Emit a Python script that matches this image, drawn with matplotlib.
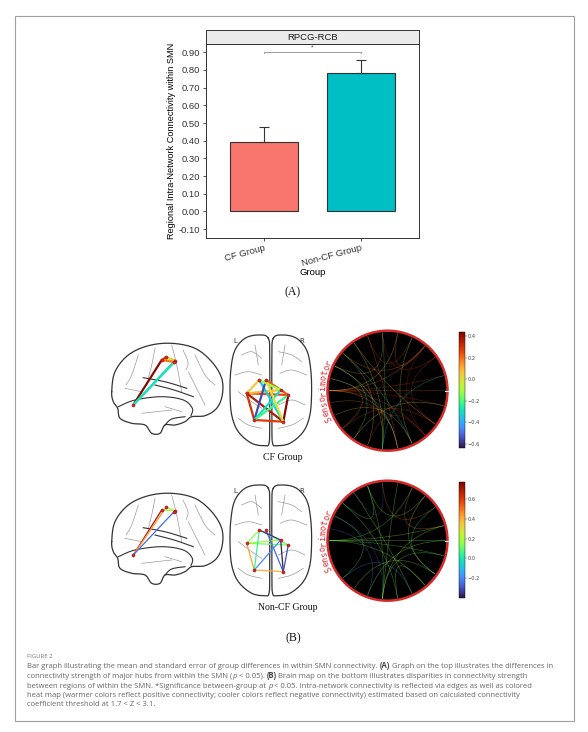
import numpy as np
import matplotlib
matplotlib.use("Agg")
import matplotlib.pyplot as plt
from matplotlib.patches import Rectangle, Circle, PathPatch
from matplotlib.path import Path
from matplotlib.colors import Normalize
from matplotlib.cm import ScalarMappable

# ---------------- panel A data ----------------
groups = ["CF Group", "Non-CF Group"]
means = [0.395, 0.782]
sems = [0.080, 0.073]
bar_colors = ["#F8766D", "#00BFC4"]
y_ticks = [-0.1, 0.0, 0.1, 0.2, 0.3, 0.4, 0.5, 0.6, 0.7, 0.8, 0.9]
hub = "RPCG-RCB"
sig_height = 0.90

# ---------------- panel B data ----------------
row_names = ["CF Group", "Non-CF Group"]
# glass brain node positions (local pixel units of each view)
sag_x = [25.3, 53.7, 58.0, 67.0, 66.3]
sag_y = [65.0, 20.0, 17.3, 20.7, 22.0]
axl_x = [34.3, 41.0, 21.7, 55.7, 63.3, 29.3, 58.3]
axl_y = [54.0, 54.0, 67.3, 64.0, 69.0, 94.0, 95.7]

sag_edges_cf = [(0, 1, 0.42), (0, 3, -0.35), (0, 4, -0.28), (1, 2, 0.30), (1, 3, 0.05),
                (2, 3, 0.12), (2, 4, -0.05), (1, 4, 0.18)]
sag_edges_ncf = [(0, 1, 0.70), (0, 2, 0.45), (0, 3, -0.25), (1, 3, 0.15), (2, 3, 0.22),
                 (3, 4, 0.05)]
axl_edges_cf = [(2, 5, 0.30), (5, 6, 0.28), (2, 4, 0.25), (2, 6, 0.36), (4, 6, 0.42),
                (1, 4, 0.22), (0, 2, 0.05), (2, 3, 0.08), (0, 6, -0.35), (1, 5, -0.55),
                (3, 5, -0.30), (0, 3, -0.12), (4, 5, -0.22), (1, 6, 0.0)]
axl_edges_ncf = [(2, 5, 0.42), (5, 6, 0.40), (0, 2, 0.15), (2, 4, 0.12), (2, 3, 0.18),
                 (0, 4, 0.10), (1, 6, -0.25), (0, 3, -0.35), (3, 6, -0.38), (4, 6, -0.30),
                 (5, 3, -0.20), (0, 5, 0.05)]

# circular connectogram: node angles (deg) and edges
circ_angles = [180, 168, 155, 140, 125, 110, 95, 80, 65, 50, 35, 15,
               0, -15, -35, -50, -65, -80, -95, -110, -125, -140, -155, -168]
circ_edges_cf = [(0, 11, 0.28), (0, 12, 0.22), (0, 13, 0.30), (0, 9, 0.18), (0, 15, 0.25),
                 (0, 17, 0.12), (0, 7, 0.05), (1, 17, -0.28), (2, 18, 0.02), (3, 16, -0.30),
                 (3, 19, 0.08), (4, 18, 0.0), (5, 17, 0.20), (4, 14, 0.10), (5, 8, 0.25),
                 (6, 10, 0.30), (7, 9, 0.22), (9, 15, 0.32), (10, 14, 0.28), (8, 16, -0.05),
                 (2, 20, -0.20), (1, 21, 0.15), (22, 16, 0.10), (21, 14, 0.26), (20, 13, 0.05),
                 (19, 15, 0.30), (18, 11, -0.32), (23, 17, 0.18), (6, 18, -0.25), (3, 9, 0.20),
                 (2, 6, 0.12)]
circ_edges_ncf = [(0, 12, 0.15), (0, 13, 0.10), (0, 15, 0.18), (0, 11, 0.20), (0, 8, 0.12),
                  (3, 17, 0.15), (2, 18, -0.25), (1, 19, -0.20), (4, 16, 0.18), (5, 18, 0.12),
                  (4, 6, -0.28), (3, 5, 0.10), (8, 11, 0.45), (6, 10, 0.50), (9, 14, 0.30),
                  (10, 14, 0.05), (19, 12, 0.15), (18, 11, 0.18), (18, 13, 0.12), (20, 14, 0.16),
                  (21, 16, -0.15), (17, 15, 0.20), (2, 21, 0.08), (5, 9, 0.14), (7, 18, 0.16)]
network_name = "Sensorimotor"

cb_limits = [(-0.637, 0.437), (-0.40, 0.77)]
cb_ticks = [[-0.6, -0.4, -0.2, 0.0, 0.2, 0.4], [-0.2, 0.0, 0.2, 0.4, 0.6]]

caption_title = "FIGURE 2"
caption_lines = [
    [("Bar graph illustrating the mean and standard error of group differences in within SMN connectivity. ", "n"),
     ("(A)", "b"), (" Graph on the top illustrates the differences in", "n")],
    [("connectivity strength of major hubs from within the SMN (", "n"), ("p", "i"), (" < 0.05). ", "n"),
     ("(B)", "b"), (" Brain map on the bottom illustrates disparities in connectivity strength", "n")],
    [("between regions of within the SMN. *Significance between-group at ", "n"), ("p", "i"),
     (" < 0.05. Intra-network connectivity is reflected via edges as well as colored", "n")],
    [("heat map (warmer colors reflect positive connectivity; cooler colors reflect negative connectivity) estimated based on calculated connectivity", "n")],
    [("coefficient threshold at 1.7 < Z < 3.1.", "n")],
]

# ---------------- outline shapes (decoration) ----------------
sag_outline = [(3.7, 51.7), (7, 31.7), (20.3, 15), (40.3, 5.7), (63.7, 3.3), (87, 8.3),
               (103.7, 21.7), (113.7, 38.3), (114.3, 55), (108.7, 68.3), (97, 75.7),
               (83.7, 76.7), (77, 81.7), (67, 85), (57, 85), (52, 93.3), (43.7, 93.3),
               (37, 85), (23.7, 83.3), (12, 78.3), (9.7, 68.3), (5.3, 61.7)]
sag_dark = [[(35.3, 37.7), (58, 42), (78.7, 48.3)],
            [(47, 45), (66, 50), (85.3, 56.7)],
            [(10.3, 66.7), (27, 60), (53.7, 56.7), (75.3, 60), (84.3, 68.3), (83, 75.7)],
            [(57, 85), (63.7, 79), (77, 76.7)]]
sag_sulci = [[(63.7, 5), (68.7, 25), (73.7, 51.7)],
             [(47, 8.3), (43.7, 25), (40.3, 38.3)],
             [(30.3, 15), (23.7, 35), (18, 45)],
             [(87, 15), (97, 35), (107, 45)],
             [(17, 48.3), (33.7, 51.7)],
             [(80.3, 31.7), (90.3, 51.7), (97, 65)],
             [(33.7, 73.3), (63.7, 70)],
             [(57, 66.7), (73.7, 71.7)],
             [(75, 10), (80, 22), (78, 30)]]
hemi_left = [(43.3, 12.3), (33.3, 9), (20, 12.3), (10, 24), (6, 42.3), (5, 65.7), (6.7, 89),
             (13.3, 105.7), (26.7, 117.3), (40, 119.7), (44, 117.3), (44.7, 99), (44.7, 32.3)]
axl_sulci = [[(16.7, 29), (26.7, 25.7), (36.7, 32.3)],
             [(53.3, 25.7), (66.7, 29), (76.7, 35.7)],
             [(10, 49), (23.3, 45.7), (36.7, 49)],
             [(55, 47.3), (66.7, 44), (81.7, 49)],
             [(13.3, 65.7), (26.7, 75.7), (36.7, 82.3)],
             [(53.3, 79), (66.7, 74), (80, 79)],
             [(13.3, 92.3), (23.3, 99), (36.7, 102.3)],
             [(53.3, 102.3), (66.7, 99), (78.3, 92.3)],
             [(30, 19), (33.3, 39)],
             [(60, 19), (56.7, 39)]]


def catmull(pts, n=10, closed=False):
    p = np.asarray(pts, dtype=float)
    if closed:
        idx = [(i - 1, i, (i + 1) % len(p), (i + 2) % len(p)) for i in range(len(p))]
    else:
        p = np.vstack([p[:1], p, p[-1:]])
        idx = [(i - 1, i, i + 1, i + 2) for i in range(1, len(p) - 2)]
    t = np.linspace(0, 1, n, endpoint=False)[:, None]
    out = []
    for a, b, c, d in idx:
        p0, p1, p2, p3 = p[a], p[b], p[c], p[d]
        out.append(0.5 * (2 * p1 + (-p0 + p2) * t + (2 * p0 - 5 * p1 + 4 * p2 - p3) * t ** 2
                          + (-p0 + 3 * p1 - 3 * p2 + p3) * t ** 3))
    out = np.vstack(out)
    end = out[:1] if closed else p[-2:-1]
    return np.vstack([out, end])


W, H = 588, 732
fig = plt.figure(figsize=(W / 100, H / 100), dpi=100)
fig.patch.set_facecolor("white")
sans = "Liberation Sans"
serif = "Liberation Serif"

# ---------------- panel A: bar chart ----------------
ax = fig.add_axes([206 / W, 1 - 238 / H, 213 / W, 194 / H])
x = [1, 2]
ax.bar(x, means, width=0.7, color=bar_colors, edgecolor="#333333", linewidth=0.8, zorder=2)
ax.errorbar(x, means, yerr=[[0, 0], sems], fmt="none", ecolor="#333333",
            elinewidth=0.8, capsize=3.5, capthick=0.8, zorder=3)
ax.plot([1, 1, 2, 2], [sig_height - 0.006, sig_height, sig_height, sig_height - 0.006],
        color="#8c8c8c", lw=0.6)
ax.text(1.5, sig_height + 0.008, "*", ha="center", va="bottom", fontsize=5,
        color="#555555", family=sans)
ax.set_xlim(0.4, 2.6)
ax.set_ylim(-0.15, 0.947)
ax.set_yticks(y_ticks)
ax.set_yticklabels([f"{v:.2f}".replace("−", "-") for v in y_ticks], family=sans, fontsize=6.8,
                   color="#222222")
ax.set_xticks(x)
ax.set_xticklabels(groups, rotation=15, ha="right", rotation_mode="anchor",
                   family=sans, fontsize=6.8, color="#222222")
ax.set_xlabel("Group", family=sans, fontsize=6.8, labelpad=0)
ax.set_ylabel("Regional Intra-Network Connectivity within SMN", family=sans, fontsize=6.6,
              labelpad=2)
ax.tick_params(length=2.5, width=0.6, pad=1.5, colors="#333333")
for s in ax.spines.values():
    s.set_linewidth(0.7)
    s.set_color("#333333")

strip = fig.add_axes([206 / W, 1 - 44 / H, 213 / W, 14 / H])
strip.set_facecolor("#ebebeb")
strip.set_xticks([])
strip.set_yticks([])
for s in strip.spines.values():
    s.set_linewidth(0.7)
    s.set_color("#333333")
strip.text(0.5, 0.5, hub, ha="center", va="center", family=sans, fontsize=6.8,
           color="#1a1a1a", transform=strip.transAxes)

# ---------------- overlay for panel B drawings and captions ----------------
ov = fig.add_axes([0, 0, 1, 1], zorder=5)
ov.set_xlim(0, W)
ov.set_ylim(H, 0)
ov.axis("off")
ov.patch.set_alpha(0)

ov.add_patch(Rectangle((15, 16), 559, 705, fill=False, ec="#a0a0a0", lw=0.8))
ov.text(293, 292, "(A)", ha="center", va="center", family=serif, fontsize=8.5, color="#111111")
ov.text(293, 638, "(B)", ha="center", va="center", family=serif, fontsize=8.5, color="#111111")

cmap = plt.get_cmap("turbo")
sag_edges = [sag_edges_cf, sag_edges_ncf]
axl_edges = [axl_edges_cf, axl_edges_ncf]
circ_edges = [circ_edges_cf, circ_edges_ncf]
edge_lw = [1.6, 0.9]
label_x = [283, 288]

for r in range(2):
    off = 150 * r
    norm = Normalize(*cb_limits[r])

    # sagittal view
    ox, oy = 108, 340 + off
    c = catmull(sag_outline, closed=True)
    ov.plot(c[:, 0] + ox, c[:, 1] + oy, color="#333333", lw=0.9)
    for ln in sag_sulci:
        c = catmull(ln)
        ov.plot(c[:, 0] + ox, c[:, 1] + oy, color="#9a9a9a", lw=0.5)
    for ln in sag_dark:
        c = catmull(ln)
        ov.plot(c[:, 0] + ox, c[:, 1] + oy, color="#333333", lw=0.8)
    for i, j, v in sag_edges[r]:
        ov.plot([sag_x[i] + ox, sag_x[j] + ox], [sag_y[i] + oy, sag_y[j] + oy],
                color=cmap(norm(v)), lw=edge_lw[r], solid_capstyle="round")
    ov.scatter(np.array(sag_x) + ox, np.array(sag_y) + oy, s=5, color="#e3242b",
               edgecolor="#8b0000", linewidth=0.3, zorder=4)

    # axial view
    ox, oy = 225, 326 + off
    for side in (0, 1):
        pts = hemi_left if side == 0 else [(91.6 - px, py) for px, py in hemi_left]
        c = catmull(pts, closed=True)
        ov.plot(c[:, 0] + ox, c[:, 1] + oy, color="#333333", lw=0.9)
    for ln in axl_sulci:
        c = catmull(ln)
        ov.plot(c[:, 0] + ox, c[:, 1] + oy, color="#9a9a9a", lw=0.5)
    for i, j, v in axl_edges[r]:
        ov.plot([axl_x[i] + ox, axl_x[j] + ox], [axl_y[i] + oy, axl_y[j] + oy],
                color=cmap(norm(v)), lw=edge_lw[r], solid_capstyle="round")
    ov.scatter(np.array(axl_x) + ox, np.array(axl_y) + oy, s=5, color="#e3242b",
               edgecolor="#8b0000", linewidth=0.3, zorder=4)
    ov.text(235, 341 + off, "L", ha="center", va="center", family="DejaVu Sans", fontsize=5,
            color="#333333")
    ov.text(301.7, 341 + off, "R", ha="center", va="center", family="DejaVu Sans", fontsize=5,
            color="#333333")
    ov.text(label_x[r], 457 + off, row_names[r], ha="center", va="center", family=serif,
            fontsize=7, color="#111111")

    # circular connectogram
    cx, cy, R, half = 387.5, 390.7 + off, 60, 72
    axc = fig.add_axes([(cx - half) / W, 1 - (cy + half) / H, 2 * half / W, 2 * half / H],
                       zorder=6)
    axc.set_xlim(-half / R, half / R)
    axc.set_ylim(-half / R, half / R)
    axc.axis("off")
    axc.patch.set_alpha(0)
    axc.add_patch(Circle((0, 0), 1, fc="black", ec="#d42a2a", lw=1.8, zorder=1))
    ang = np.deg2rad(circ_angles)
    px, py = 0.97 * np.cos(ang), 0.97 * np.sin(ang)
    for i, j, v in circ_edges[r]:
        path = Path([(px[i], py[i]), (0, 0), (px[j], py[j])],
                    [Path.MOVETO, Path.CURVE3, Path.CURVE3])
        axc.add_patch(PathPatch(path, fc="none", ec=cmap(norm(v)), lw=0.45, alpha=0.4,
                                zorder=2))
    axc.plot([0.96, 1.04], [0, 0], color="white", lw=0.8, zorder=3)
    step = 4.6
    n = len(network_name)
    for k, ch in enumerate(network_name):
        th = 180 + (n - 1) / 2 * step - k * step
        t = np.deg2rad(th)
        axc.text(1.085 * np.cos(t), 1.085 * np.sin(t), ch, rotation=th - 90,
                 rotation_mode="anchor", ha="center", va="center", family="DejaVu Sans Mono",
                 fontsize=6.2, color="#d9343a")

    # colorbar
    top = 332 + off
    cax = fig.add_axes([459 / W, 1 - (top + 116) / H, 6 / W, 116 / H])
    cb = fig.colorbar(ScalarMappable(norm=norm, cmap=cmap), cax=cax, ticks=cb_ticks[r])
    cb.outline.set_linewidth(0.3)
    cb.ax.tick_params(labelsize=3.6, length=1.2, width=0.3, pad=0.8, colors="#444444")
    cb.ax.set_yticklabels([f"{t:.1f}".replace("-", "\u2212") for t in cb_ticks[r]])

# ---------------- caption ----------------
cap_font = "Open Sans"
ov.text(27, 656, caption_title, ha="left", va="center", family=cap_font, fontsize=4.3,
        color="#777777")
styles = {"n": dict(), "b": dict(fontweight="bold", color="#444444"), "i": dict(style="italic")}
line_y = [666, 676, 686, 695.5, 705]
for ly, pieces in zip(line_y, caption_lines):
    prev = None
    for txt, st in pieces:
        kw = dict(family=cap_font, fontsize=5.5, color="#666666", va="center", ha="left")
        kw.update(styles[st])
        if prev is None:
            prev = ov.text(27, ly, txt, **kw)
        else:
            kw["va"] = "bottom"
            prev = ov.annotate(txt, xy=(1, 0), xycoords=prev, **kw)

fig.savefig("out.png", dpi=100)
